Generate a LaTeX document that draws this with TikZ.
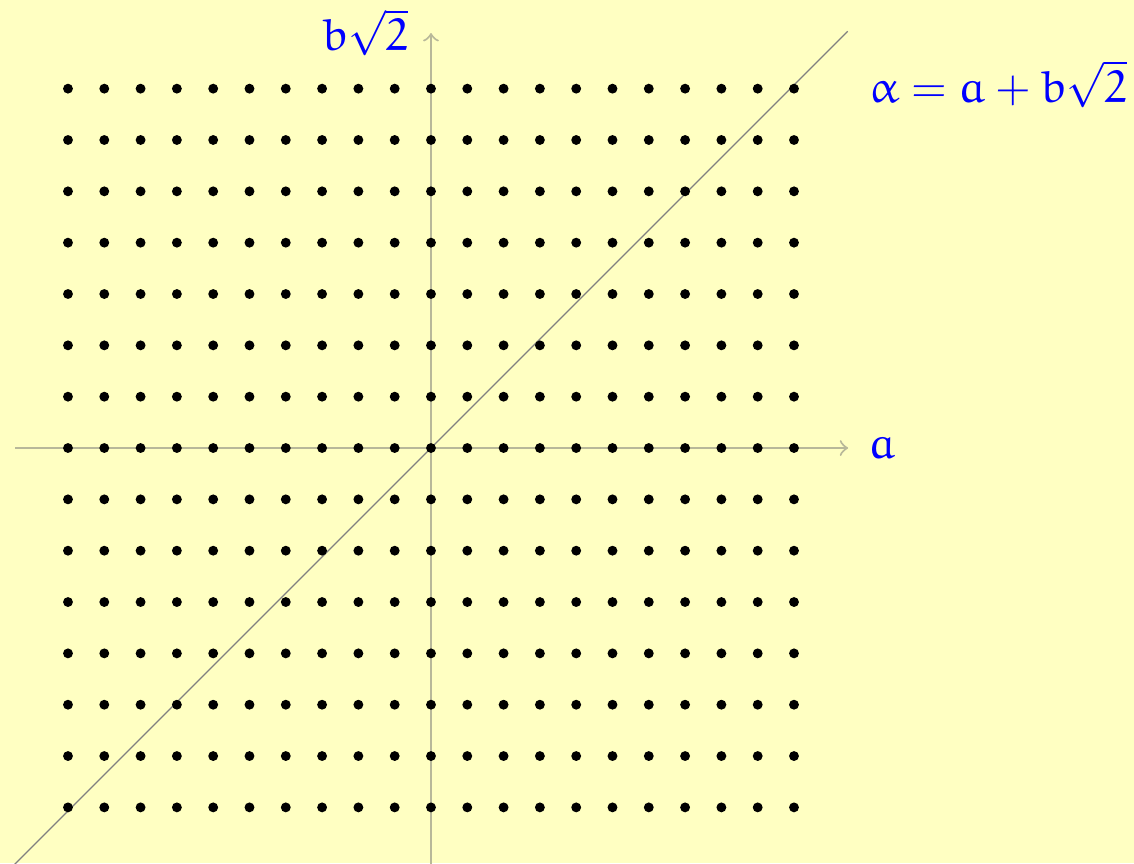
\documentclass[tikz,border=0pt]{standalone}
\usepackage{euler}
\definecolor{bg}{rgb}{1,1,0.76}
\definecolor{axiscol}{rgb}{0.72,0.72,0.60}
\definecolor{diagcol}{rgb}{0.50,0.50,0.50}
\tikzset{
  axisline/.style={draw=axiscol, line width=0.5pt, ->},
  diagline/.style={draw=diagcol, line width=0.3pt},
  latdot/.style={circle, fill=black, inner sep=0pt, minimum size=2.4pt},
  lab/.style={text=blue, inner sep=0pt, font=\fontsize{11}{13}\selectfont}
}
\begin{document}
\begin{tikzpicture}[x=0.31cm,y=0.31cm]
\fill[bg] (-11.873,-11.433) rectangle (19.366,12.342);
\useasboundingbox (-11.873,-11.433) rectangle (19.366,12.342);
\coordinate (xl) at (-11.45,0);
\coordinate (xr) at (11.49,0);
\coordinate (yb) at (0,-11.5);
\coordinate (yt) at (0,11.43);
\coordinate (dl) at (-11.5,-11.5);
\coordinate (dr) at (11.48,11.48);
\draw[axisline] (xl) -- (xr);
\draw[axisline] (yb) -- (yt);
\draw[diagline] (dl) -- (dr);
\foreach \i in {-10,...,10} {
  \foreach \j in {-7,...,7} {
    \node[latdot] (p\i\j) at (\i,{\j*1.41421}) {};
  }
}
\node[lab] (la) at (12.42,0) {$a$};
\node[lab] (lb) at (-1.82,11.45) {$b\sqrt{2}$};
\node[lab] (lal) at (15.62,10.03) {$\alpha = a + b\sqrt{2}$};
\end{tikzpicture}
\end{document}
